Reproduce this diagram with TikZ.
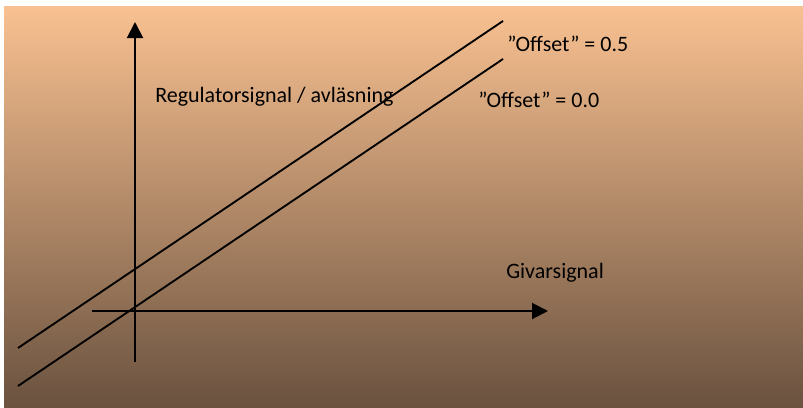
\documentclass[tikz,border=0pt]{standalone}
\usepackage{fontspec}
\setmainfont{Carlito}
\usetikzlibrary{arrows.meta}
\definecolor{peach}{RGB}{249,193,145}
\definecolor{midbrown}{RGB}{200,155,118}
\definecolor{darkbrown}{RGB}{106,82,63}
\tikzset{
  axis/.style={line width=1.5pt,-{Triangle[length=12pt,width=12pt]}},
  line/.style={line width=1.4pt},
  lbl/.style={anchor=west,inner sep=0pt,font=\fontsize{16.5}{19}\selectfont}
}
\begin{document}
\begin{tikzpicture}[x=0.75pt,y=-0.75pt]
            \useasboundingbox (0,0) rectangle (803,407);
            \fill[white] (0,0) rectangle (803,407);
            \shade[top color=peach,middle color=midbrown,bottom color=darkbrown] (4,6) rectangle (803,407);
            % axes
            \coordinate (yfoot) at (135,362);
            \coordinate (ytip) at (135,22);
            \coordinate (xfoot) at (92,311);
            \coordinate (xtip) at (548,311);
            \draw[axis] (yfoot) -- (ytip);
            \draw[axis] (xfoot) -- (xtip);
            % lines
            \coordinate (a0) at (18,348);
            \coordinate (a1) at (503,21);
            \coordinate (b0) at (18,386);
            \coordinate (b1) at (503,59);
            \draw[line] (a0) -- (a1);
            \draw[line] (b0) -- (b1);
            \node[lbl] (ylabel) at (155,97) {Regulatorsignal / avläsning};
            \node[lbl] (xlabel) at (506,273) {Givarsignal};
            \node[lbl] (off5) at (507,44) {”Offset” = 0.5};
            \node[lbl] (off0) at (478,100) {”Offset” = 0.0};
\end{tikzpicture}
\end{document}
